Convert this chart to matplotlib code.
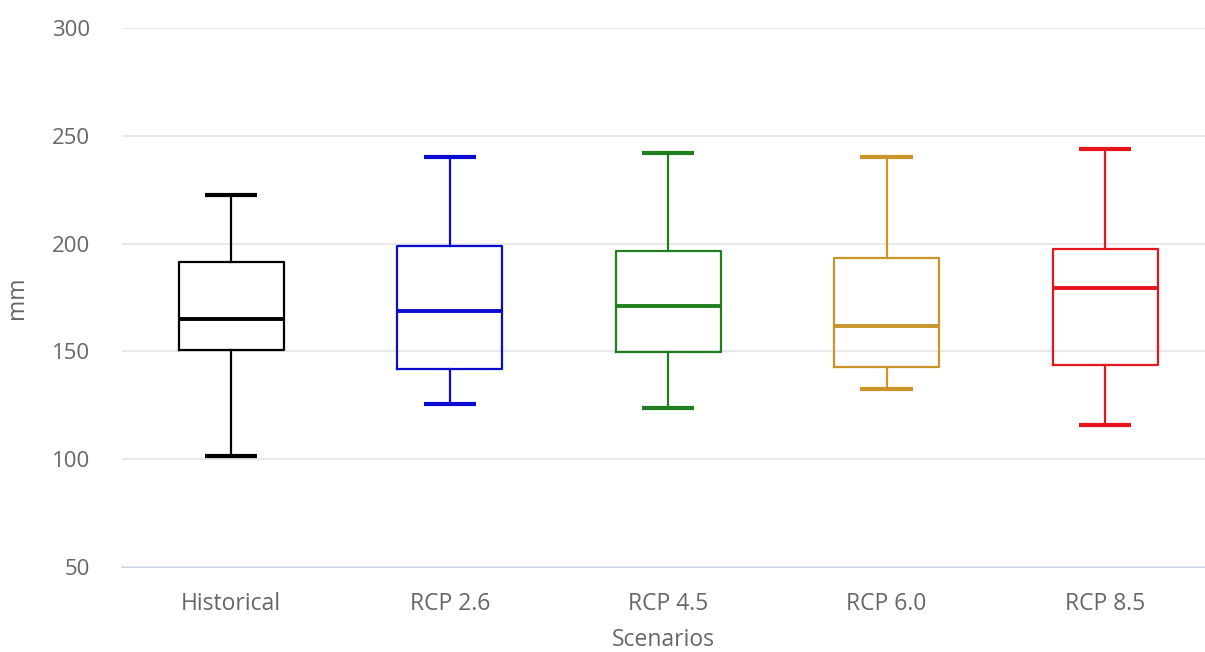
import matplotlib
matplotlib.use("Agg")
import matplotlib.pyplot as plt

# Scenario precipitation summaries (mm)
scenarios = ["Historical", "RCP 2.6", "RCP 4.5", "RCP 6.0", "RCP 8.5"]
whisker_low = [101.5, 125.6, 123.7, 132.6, 115.9]
q1 = [150.6, 141.8, 149.7, 142.8, 143.7]
median = [165.0, 168.7, 171.0, 161.8, 179.4]
q3 = [191.5, 198.9, 196.6, 193.3, 197.5]
whisker_high = [222.5, 240.2, 242.0, 240.2, 243.9]
colors = ["#000000", "#0a0ad0", "#1f7f1f", "#c9952b", "#e8141c"]
y_ticks = [50, 100, 150, 200, 250, 300]

plt.rcParams["font.family"] = ["Open Sans", "DejaVu Sans"]

fig = plt.figure(figsize=(12.05, 6.52), dpi=100)
ax = fig.add_axes([122 / 1205, 85 / 652, (1205 - 122) / 1205, 539 / 652])

for i, name in enumerate(scenarios):
    stats = [{
        "whislo": whisker_low[i], "q1": q1[i], "med": median[i],
        "q3": q3[i], "whishi": whisker_high[i], "label": name,
    }]
    c = colors[i]
    ax.bxp(stats, positions=[i], widths=0.48, showfliers=False,
           boxprops=dict(color=c, linewidth=1.6),
           medianprops=dict(color=c, linewidth=2.8, solid_capstyle="butt"),
           whiskerprops=dict(color=c, linewidth=1.6),
           capprops=dict(color=c, linewidth=3.0, solid_capstyle="butt"),
           capwidths=0.24, manage_ticks=False, zorder=3)

ax.set_xlim(-0.5, 4.457)
ax.set_ylim(50, 300)
ax.set_xticks(range(len(scenarios)))
ax.set_xticklabels(scenarios)
ax.set_yticks(y_ticks)

ax.grid(axis="y", color="#e6e6e6", linewidth=1.3, zorder=0)
ax.grid(axis="x", visible=False)
for side in ["top", "right", "left"]:
    ax.spines[side].set_visible(False)
ax.spines["bottom"].set_color("#ccd6eb")
ax.spines["bottom"].set_linewidth(1.4)
ax.spines["bottom"].set_zorder(1)

ax.tick_params(axis="both", length=0, labelcolor="#666666")
ax.tick_params(axis="x", pad=18, labelsize=16.5)
ax.tick_params(axis="y", pad=23, labelsize=16)

ax.set_xlabel("Scenarios", color="#666666", fontsize=16.5, labelpad=9)
ax.set_ylabel("mm", color="#666666", fontsize=16.5)
ax.yaxis.set_label_coords(-0.0859, 0.5)

fig.savefig("out.png", dpi=100, facecolor="white")
